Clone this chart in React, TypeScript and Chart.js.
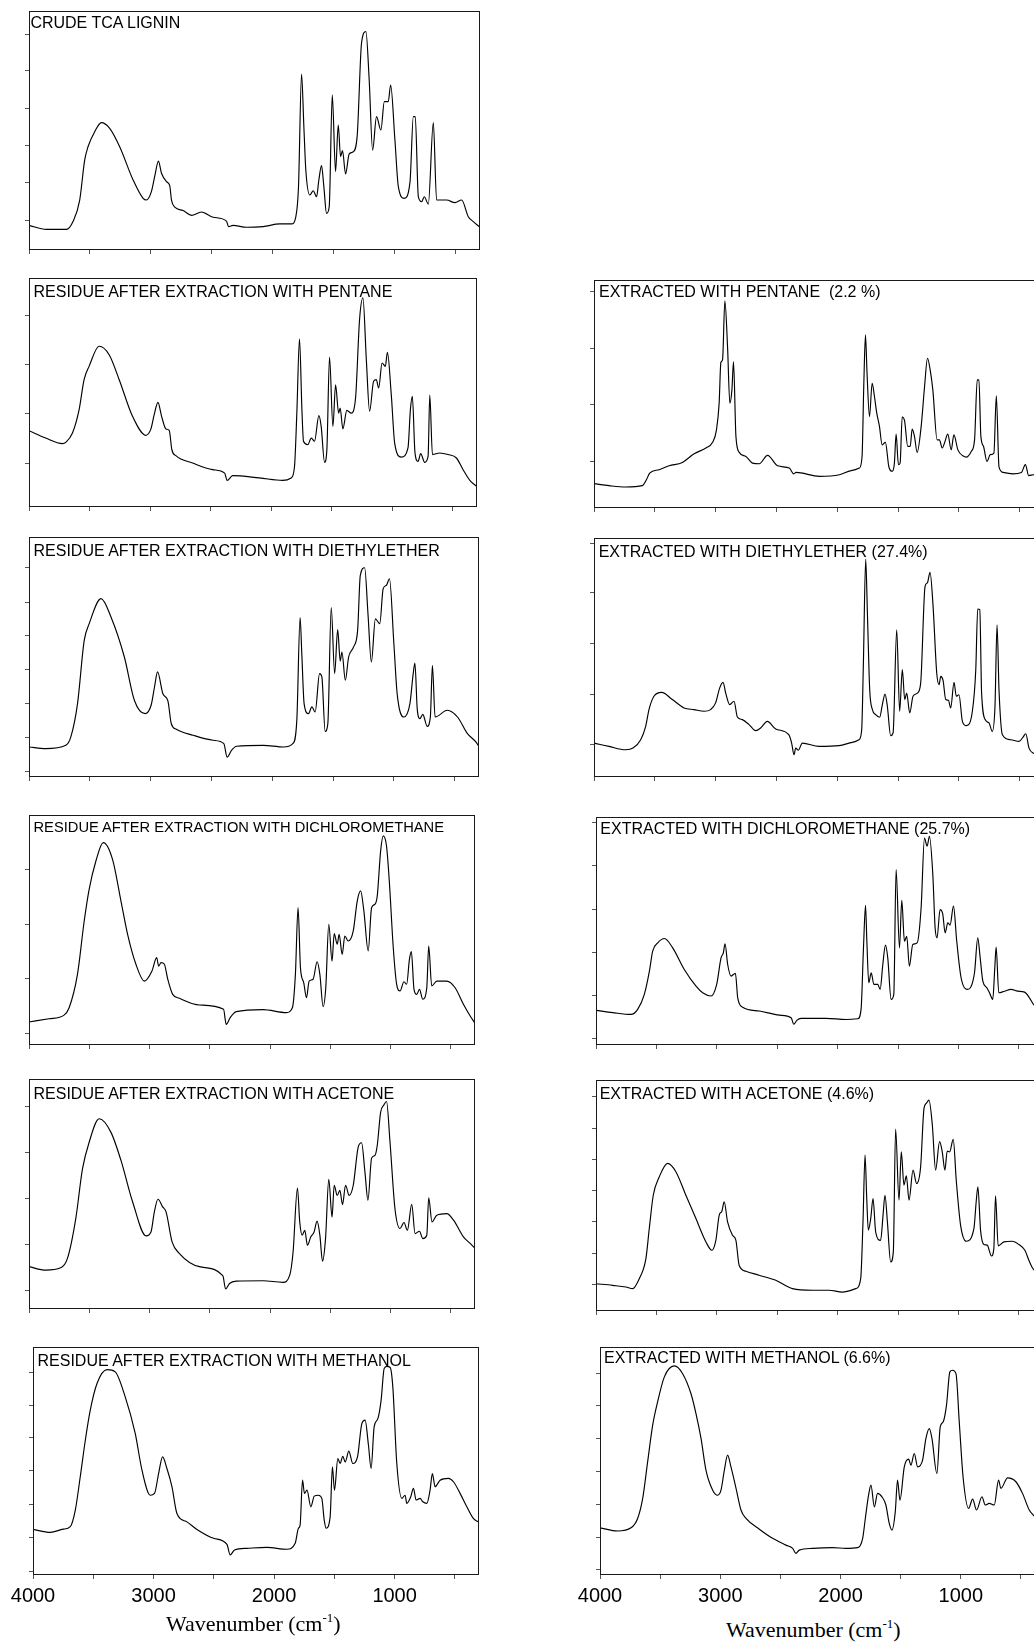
import React, { useEffect, useRef } from "react";
import { Chart, registerables } from "chart.js";

Chart.register(...registerables);

type Pt = [number, number];

// ---- tick values (wavenumber, cm^-1) ----
const X_TICKS: number[] = [4000, 3500, 3000, 2500, 2000, 1500, 1000, 500];
const X_MIN = 300;
const X_MAX = 4000;

// ---- spectra: [wavenumber, relative absorbance (% of panel height)] ----
const CRUDE_TCA: Pt[] = [[4000,10.3],[3858,8.6],[3693,8.6],[3639,11.9],[3584,20.9],[3543,37.7],[3516,43.2],[3461,49.5],[3406,53.3],[3338,50.9],[3256,43.2],[3146,29.3],[3064,21.6],[3037,20.9],[2996,24.4],[2969,30.7],[2938,37.2],[2913,32.1],[2872,28.6],[2845,26.8],[2831,20.9],[2804,17.9],[2736,16.5],[2667,14.5],[2585,15.9],[2489,13.7],[2380,12.1],[2363,9.8],[2325,10.3],[2216,9.5],[2079,9.8],[1942,10.9],[1846,10.9],[1811,13.9],[1789,26.5],[1764,73.6],[1745,51.6],[1729,33.5],[1696,23.0],[1668,24.8],[1641,22.3],[1622,29.3],[1600,35.3],[1581,26.5],[1559,15.3],[1537,18.1],[1512,64.9],[1485,32.8],[1463,52.3],[1444,39.1],[1428,41.6],[1403,31.8],[1373,40.2],[1340,41.1],[1307,48.1],[1272,86.5],[1236,91.4],[1209,71.1],[1181,41.8],[1149,55.8],[1113,50.2],[1085,62.1],[1053,62.1],[1033,69.0],[998,46.0],[970,26.5],[921,21.6],[874,28.6],[847,55.8],[831,55.8],[806,22.3],[779,20.2],[757,22.3],[724,19.2],[683,53.3],[656,20.9],[574,20.9],[505,19.8],[451,20.9],[396,13.9],[355,11.9],[306,9.8]];

const RES_PENTANE: Pt[] = [[4000,33.3],[3862,30.1],[3724,27.7],[3697,28.2],[3641,32.3],[3586,42.5],[3545,55.6],[3504,61.4],[3421,70.2],[3338,66.5],[3255,55.6],[3145,39.6],[3035,31.3],[2993,34.1],[2966,40.3],[2935,45.7],[2905,39.6],[2869,34.1],[2842,33.5],[2820,25.0],[2787,22.4],[2649,19.2],[2483,16.3],[2384,14.8],[2364,11.6],[2318,13.7],[2097,12.7],[1904,11.6],[1835,12.7],[1807,17.8],[1788,41.0],[1766,73.4],[1746,42.5],[1733,28.7],[1697,27.2],[1669,30.1],[1642,28.7],[1606,39.9],[1587,35.2],[1559,19.5],[1540,25.0],[1518,65.5],[1490,35.2],[1468,53.4],[1443,41.0],[1430,43.2],[1408,34.1],[1375,42.2],[1339,41.0],[1303,47.6],[1270,81.8],[1242,91.3],[1214,64.3],[1187,41.8],[1154,54.9],[1132,55.6],[1112,52.0],[1084,62.9],[1057,61.4],[1040,67.5],[1007,48.3],[980,27.9],[925,21.8],[870,25.8],[850,42.5],[834,48.3],[812,23.6],[787,19.9],[765,23.3],[732,19.5],[704,22.1],[690,48.9],[668,22.9],[608,23.6],[539,22.9],[470,21.4],[415,16.3],[359,11.6],[304,9.0]];

const RES_DIETHYL: Pt[] = [[4000,12.5],[3862,11.8],[3697,13.2],[3656,16.7],[3601,30.6],[3546,56.9],[3505,63.9],[3408,74.3],[3326,66.7],[3216,50.0],[3133,31.9],[3045,26.4],[2996,29.9],[2968,37.5],[2943,43.8],[2899,34.7],[2858,31.7],[2830,22.2],[2789,19.9],[2651,17.4],[2486,15.3],[2398,13.9],[2371,8.3],[2335,11.1],[2294,12.8],[2074,13.2],[1908,12.5],[1831,13.9],[1798,23.6],[1771,66.4],[1757,51.4],[1738,30.6],[1702,26.4],[1674,29.2],[1647,27.1],[1611,43.1],[1592,41.7],[1565,19.0],[1543,22.2],[1515,70.6],[1487,43.1],[1462,61.4],[1441,48.3],[1427,52.1],[1399,40.3],[1372,50.0],[1331,54.2],[1298,61.1],[1276,84.0],[1240,87.2],[1213,68.1],[1185,47.9],[1152,65.9],[1116,63.9],[1088,78.5],[1061,79.9],[1036,82.6],[1000,55.6],[973,34.7],[918,25.0],[868,30.6],[841,43.1],[827,47.5],[808,28.5],[786,24.3],[762,26.1],[726,21.1],[700,25.0],[683,46.5],[661,25.0],[560,27.8],[477,25.0],[395,18.1],[326,14.6],[298,12.5]];

const RES_DCM: Pt[] = [[4000,10.0],[3834,11.4],[3709,13.0],[3667,16.2],[3598,30.7],[3542,53.9],[3501,67.7],[3445,80.0],[3384,88.0],[3307,80.7],[3237,62.6],[3182,48.1],[3113,35.1],[3043,27.8],[2980,32.2],[2941,38.0],[2924,34.3],[2905,35.8],[2877,35.1],[2849,28.6],[2808,22.0],[2752,20.3],[2586,17.4],[2386,15.5],[2364,9.0],[2331,11.9],[2281,14.5],[2059,15.4],[1865,14.1],[1815,16.2],[1790,30.7],[1768,59.7],[1748,33.6],[1721,27.1],[1698,20.6],[1676,27.8],[1643,28.6],[1610,36.2],[1587,30.7],[1560,16.7],[1538,24.9],[1513,52.5],[1486,36.5],[1468,48.4],[1443,43.8],[1427,48.1],[1402,39.4],[1380,47.4],[1352,45.2],[1310,49.6],[1277,62.6],[1249,67.0],[1222,58.3],[1186,40.9],[1158,59.7],[1130,61.2],[1111,64.8],[1083,84.3],[1061,90.9],[1034,86.5],[1011,71.3],[978,42.3],[950,26.4],[922,23.5],[889,27.5],[867,26.4],[844,37.2],[828,40.6],[806,24.2],[783,22.0],[761,24.2],[733,19.9],[700,24.9],[684,43.0],[659,25.7],[617,27.8],[534,27.8],[465,24.9],[396,17.7],[340,12.6],[298,9.3]];

const RES_ACETONE: Pt[] = [[4000,18.4],[3861,16.9],[3737,17.9],[3681,22.0],[3612,39.3],[3556,61.0],[3501,72.5],[3418,82.7],[3321,76.9],[3237,64.6],[3140,46.5],[3029,31.8],[2988,33.5],[2960,42.2],[2930,47.7],[2891,44.4],[2863,42.2],[2813,29.2],[2752,24.1],[2586,18.4],[2392,14.5],[2369,8.7],[2336,11.1],[2281,12.1],[2059,12.3],[1893,11.6],[1837,14.7],[1809,24.9],[1773,52.6],[1754,37.9],[1734,32.1],[1712,34.2],[1690,27.7],[1662,31.4],[1635,33.5],[1610,38.2],[1587,32.1],[1565,20.8],[1540,30.6],[1513,56.4],[1486,40.0],[1468,53.8],[1443,49.4],[1421,51.6],[1399,45.4],[1374,53.8],[1344,49.4],[1310,53.8],[1269,70.4],[1241,72.3],[1213,59.5],[1188,47.3],[1158,65.6],[1130,66.8],[1111,71.1],[1083,85.5],[1056,88.7],[1034,90.2],[1005,72.5],[964,43.6],[922,35.0],[889,37.6],[861,34.2],[825,45.5],[797,32.8],[761,33.8],[733,30.6],[700,32.1],[684,48.3],[657,37.9],[617,40.8],[534,41.5],[478,38.6],[396,31.4],[340,28.5],[298,26.3]];

const RES_METHANOL: Pt[] = [[4000,20.0],[3857,18.7],[3749,20.1],[3691,21.2],[3649,28.5],[3608,43.1],[3566,59.1],[3525,72.3],[3469,84.0],[3386,90.1],[3318,89.1],[3235,78.1],[3152,62.1],[3096,46.0],[3027,35.0],[2992,35.8],[2958,44.5],[2925,51.8],[2889,46.7],[2847,38.7],[2806,27.0],[2723,23.3],[2640,20.0],[2502,16.1],[2391,13.4],[2364,8.8],[2328,11.0],[2226,11.7],[2060,12.1],[1894,11.3],[1825,13.9],[1798,20.5],[1784,21.9],[1764,41.6],[1748,35.8],[1727,37.2],[1695,29.9],[1667,34.6],[1632,35.0],[1604,33.6],[1584,24.1],[1568,20.5],[1535,25.5],[1516,47.4],[1499,37.2],[1471,51.1],[1452,48.9],[1430,52.1],[1410,49.6],[1380,54.3],[1347,48.9],[1308,51.8],[1272,66.4],[1245,67.9],[1217,56.9],[1195,46.7],[1170,65.0],[1139,68.6],[1112,76.7],[1087,90.5],[1065,91.5],[1037,91.0],[1015,82.5],[982,48.9],[940,33.6],[913,35.0],[899,31.4],[866,34.3],[844,38.0],[822,32.9],[789,33.6],[766,32.1],[733,31.4],[706,37.2],[687,44.5],[664,38.7],[623,41.6],[554,42.4],[512,40.9],[457,35.8],[401,29.9],[347,24.8],[305,23.3]];

const EXT_PENTANE: Pt[] = [[4000,10.7],[3876,9.8],[3739,9.2],[3602,9.8],[3569,12.4],[3542,15.3],[3465,16.8],[3382,18.5],[3273,20.0],[3177,23.8],[3080,26.3],[3025,28.8],[2993,34.3],[2971,46.0],[2957,63.8],[2943,65.0],[2924,90.9],[2902,70.8],[2883,46.0],[2866,51.8],[2853,64.2],[2833,31.4],[2806,24.4],[2751,22.6],[2696,19.7],[2641,19.4],[2573,23.1],[2490,18.5],[2394,17.5],[2358,15.0],[2339,15.6],[2147,13.9],[1982,14.6],[1886,16.4],[1818,17.5],[1796,22.6],[1782,53.3],[1768,75.9],[1755,59.1],[1735,40.1],[1713,54.7],[1694,48.9],[1675,41.6],[1653,35.8],[1631,27.7],[1604,28.8],[1576,18.2],[1549,16.1],[1530,19.7],[1516,32.4],[1497,19.0],[1483,19.7],[1466,39.9],[1447,38.4],[1420,27.0],[1400,27.0],[1384,34.6],[1365,31.4],[1343,24.4],[1310,35.8],[1282,53.3],[1258,65.7],[1236,60.6],[1214,51.8],[1179,29.9],[1160,29.9],[1137,26.3],[1118,28.5],[1091,32.4],[1063,25.5],[1041,32.1],[1008,25.5],[967,22.9],[939,22.3],[898,24.8],[871,29.9],[849,56.2],[835,56.2],[819,31.4],[797,27.0],[769,20.4],[742,23.4],[712,24.1],[692,49.2],[670,18.0],[637,15.6],[555,15.0],[486,15.6],[453,19.0],[426,14.2],[385,14.6],[300,14.0]];

const EXT_DIETHYL: Pt[] = [[4000,14.2],[3877,12.8],[3740,11.4],[3679,12.1],[3616,15.6],[3575,21.2],[3548,28.2],[3507,33.8],[3444,35.4],[3356,32.4],[3260,28.9],[3178,28.2],[3095,27.5],[3041,28.2],[3000,31.0],[2967,37.2],[2939,39.6],[2917,35.1],[2884,30.3],[2849,31.7],[2821,25.1],[2780,24.0],[2725,21.9],[2671,19.4],[2630,20.5],[2575,23.3],[2506,20.1],[2397,17.6],[2375,14.2],[2355,9.3],[2342,12.1],[2320,11.2],[2287,14.2],[2150,12.8],[1985,13.1],[1876,14.5],[1821,15.6],[1799,19.8],[1785,47.7],[1766,91.2],[1752,68.6],[1733,36.5],[1711,28.2],[1684,26.1],[1651,25.0],[1629,30.3],[1607,34.7],[1588,29.6],[1561,17.3],[1541,18.4],[1511,61.6],[1487,27.5],[1465,44.9],[1445,32.4],[1429,35.1],[1404,26.8],[1377,33.8],[1341,35.1],[1314,39.3],[1278,79.8],[1259,81.2],[1237,85.6],[1212,71.4],[1182,43.5],[1163,38.6],[1149,42.1],[1130,40.4],[1108,32.4],[1086,32.1],[1067,28.9],[1040,39.6],[1021,33.8],[999,34.4],[971,23.3],[938,21.5],[889,27.5],[861,44.9],[845,70.3],[828,70.0],[813,35.1],[780,23.7],[752,22.6],[725,19.1],[703,29.6],[686,63.7],[670,36.5],[642,17.7],[574,15.6],[505,14.9],[472,16.7],[450,18.1],[423,12.1],[390,10.0],[300,9.0]];

const EXT_DCM: Pt[] = [[4000,15.2],[3862,14.2],[3710,13.4],[3655,15.6],[3600,22.2],[3558,32.4],[3531,41.2],[3489,44.8],[3434,46.7],[3365,42.6],[3269,33.1],[3172,25.8],[3117,22.9],[3048,21.5],[3001,26.6],[2965,38.2],[2946,40.4],[2932,44.4],[2910,35.3],[2882,30.2],[2863,30.9],[2846,31.4],[2827,20.7],[2786,16.6],[2648,14.9],[2482,13.1],[2385,12.0],[2363,9.1],[2338,10.8],[2303,11.7],[2096,11.7],[1930,11.2],[1833,11.5],[1806,15.6],[1786,42.6],[1769,61.3],[1758,45.5],[1742,27.3],[1722,31.7],[1700,26.6],[1668,26.6],[1648,24.4],[1626,35.3],[1604,43.8],[1585,38.2],[1557,20.0],[1535,22.2],[1516,76.9],[1488,42.6],[1469,63.4],[1447,45.5],[1428,47.7],[1406,34.6],[1378,44.1],[1342,44.8],[1309,60.1],[1281,90.8],[1259,87.2],[1240,91.5],[1212,74.7],[1193,51.4],[1177,47.0],[1152,59.4],[1130,57.5],[1110,49.2],[1088,53.6],[1069,52.6],[1041,60.9],[1014,45.5],[978,29.5],[923,24.4],[867,31.7],[840,47.0],[820,38.2],[798,28.0],[765,25.1],[743,22.9],[716,20.0],[699,33.9],[688,42.9],[666,22.9],[619,23.6],[564,24.4],[509,23.6],[453,23.2],[412,20.7],[379,17.8],[300,15.0]];

const EXT_ACETONE: Pt[] = [[4000,11.8],[3862,11.1],[3752,10.4],[3697,9.7],[3642,14.0],[3587,22.7],[3559,35.7],[3526,50.1],[3476,58.1],[3407,63.9],[3339,60.3],[3256,50.1],[3173,40.0],[3090,29.9],[3041,26.3],[3008,30.6],[2980,41.5],[2958,43.2],[2939,47.3],[2911,38.6],[2870,32.8],[2842,30.6],[2815,19.8],[2760,17.2],[2650,15.5],[2512,13.3],[2374,9.7],[2209,9.0],[2071,9.0],[1961,8.2],[1850,9.7],[1809,14.0],[1790,38.6],[1773,67.5],[1759,48.7],[1746,35.0],[1726,40.0],[1707,48.7],[1685,34.2],[1644,30.6],[1624,41.5],[1608,50.1],[1588,38.6],[1561,21.2],[1539,25.6],[1520,78.8],[1492,48.0],[1473,68.9],[1451,54.5],[1431,58.5],[1409,48.0],[1376,61.0],[1346,55.2],[1313,62.4],[1285,87.7],[1266,89.9],[1244,91.3],[1216,80.5],[1189,61.0],[1156,73.3],[1134,68.9],[1112,61.0],[1093,69.2],[1073,68.9],[1043,74.3],[1018,56.6],[982,37.1],[935,30.2],[872,35.7],[853,47.3],[839,53.8],[817,35.0],[789,28.8],[762,28.5],[726,23.8],[707,27.0],[693,49.9],[671,28.2],[624,29.9],[555,30.2],[500,28.8],[450,26.3],[417,22.0],[384,18.4],[300,14.0]];

const EXT_METHANOL: Pt[] = [[4000,20.7],[3853,19.3],[3742,20.7],[3687,24.8],[3645,33.6],[3604,49.6],[3562,65.7],[3521,75.9],[3465,86.9],[3382,91.7],[3313,88.3],[3244,79.6],[3202,70.8],[3160,59.9],[3119,46.0],[3063,37.2],[3022,35.0],[2994,37.2],[2966,46.0],[2939,52.6],[2911,47.4],[2869,38.0],[2828,28.5],[2786,24.8],[2675,20.1],[2565,16.1],[2454,13.1],[2398,11.7],[2371,9.5],[2343,10.9],[2232,11.7],[2066,12.0],[1955,11.7],[1858,12.0],[1816,16.1],[1794,24.8],[1767,35.0],[1747,39.4],[1719,29.9],[1692,35.8],[1656,34.3],[1623,30.7],[1595,22.6],[1573,19.7],[1545,27.7],[1526,41.6],[1506,32.8],[1470,47.4],[1434,50.8],[1415,48.2],[1387,53.3],[1359,47.4],[1318,50.4],[1290,59.9],[1262,64.2],[1240,59.9],[1199,44.5],[1171,65.0],[1146,67.2],[1119,74.5],[1091,89.1],[1068,89.8],[1040,88.3],[1013,67.2],[980,42.3],[935,29.2],[902,33.3],[869,28.5],[824,34.3],[797,30.7],[763,31.4],[722,30.7],[686,41.6],[667,38.0],[611,42.6],[542,40.9],[487,35.8],[431,28.5],[398,26.3],[300,22.0]];

// ---- y-axis tick values (unlabelled), per panel ----
const YT_CRUDE = [89.96, 74.9, 59.3, 43.7, 28.2, 12.55];
const YT_RES_PENTANE = [83.6, 62.2, 40.8, 19.2];
const YT_RES_DIETHYL = [87.2, 72.9, 58.8, 44.7, 30.6, 16.4, 2.4];
const YT_RES_DCM = [76.1, 52.5, 28.7, 5.1];
const YT_RES_ACETONE = [88.2, 68.2, 48.0, 28.0, 7.9];
const YT_RES_METHANOL = [89.0, 74.5, 60.1, 45.7, 31.1, 16.5, 1.75];
const YT_EXT_PENTANE = [94.9, 70.1, 45.3, 20.4];
const YT_EXT_DIETHYL = [97.9, 77.0, 55.8, 34.7, 13.5];
const YT_EXT_DCM = [97.4, 78.7, 59.4, 40.4, 21.5, 2.9];
const YT_EXT_ACETONE = [92.8, 79.0, 65.6, 52.0, 38.6, 24.9, 11.6];
const YT_EXT_METHANOL = [88.3, 74.5, 59.9, 45.6, 30.9, 16.4, 2.2];

const AXIS_TITLE = "Wavenumber (cm";

const SANS = '"Liberation Sans", Arial, Helvetica, sans-serif';
const SERIF = '"Liberation Serif", "Times New Roman", serif';

interface Panel {
  title: string;
  data: Pt[];
  yTicks: number[];
  box: [number, number, number, number]; // left, top, width, height
  tdx: number;
  tdy: number;
  tsize: number;
  bottom: boolean;
}

const PANELS: Panel[] = [
  { title: "CRUDE TCA LIGNIN", data: CRUDE_TCA, yTicks: YT_CRUDE, box: [29, 11, 451, 239], tdx: 1.4, tdy: 5.7, tsize: 16, bottom: false },
  { title: "RESIDUE AFTER EXTRACTION WITH PENTANE", data: RES_PENTANE, yTicks: YT_RES_PENTANE, box: [29, 278, 448, 229], tdx: 4.5, tdy: 7.7, tsize: 16, bottom: false },
  { title: "RESIDUE AFTER EXTRACTION WITH DIETHYLETHER", data: RES_DIETHYL, yTicks: YT_RES_DIETHYL, box: [29, 537, 450, 240], tdx: 4.5, tdy: 8, tsize: 16, bottom: false },
  { title: "RESIDUE AFTER EXTRACTION WITH DICHLOROMETHANE", data: RES_DCM, yTicks: YT_RES_DCM, box: [29, 815, 446, 230], tdx: 4.5, tdy: 6.7, tsize: 14.7, bottom: false },
  { title: "RESIDUE AFTER EXTRACTION WITH ACETONE", data: RES_ACETONE, yTicks: YT_RES_ACETONE, box: [29, 1079, 446, 230], tdx: 4.5, tdy: 8.7, tsize: 16, bottom: false },
  { title: "RESIDUE AFTER EXTRACTION WITH METHANOL", data: RES_METHANOL, yTicks: YT_RES_METHANOL, box: [33, 1347, 446, 228], tdx: 4.5, tdy: 8, tsize: 16, bottom: true },
  { title: "EXTRACTED WITH PENTANE  (2.2 %)", data: EXT_PENTANE, yTicks: YT_EXT_PENTANE, box: [594, 280, 450, 228], tdx: 5, tdy: 6, tsize: 16, bottom: false },
  { title: "EXTRACTED WITH DIETHYLETHER (27.4%)", data: EXT_DIETHYL, yTicks: YT_EXT_DIETHYL, box: [594, 538, 450, 239], tdx: 4.7, tdy: 8, tsize: 16, bottom: false },
  { title: "EXTRACTED WITH DICHLOROMETHANE (25.7%)", data: EXT_DCM, yTicks: YT_EXT_DCM, box: [596, 817, 447, 228], tdx: 4.3, tdy: 6, tsize: 16, bottom: false },
  { title: "EXTRACTED WITH ACETONE (4.6%)", data: EXT_ACETONE, yTicks: YT_EXT_ACETONE, box: [596, 1080, 447, 231], tdx: 3.7, tdy: 8, tsize: 16, bottom: false },
  { title: "EXTRACTED WITH METHANOL (6.6%)", data: EXT_METHANOL, yTicks: YT_EXT_METHANOL, box: [600, 1347, 445, 228], tdx: 4, tdy: 5, tsize: 16, bottom: true },
];

const PAD_L = 30;
const PAD_T = 4;
const PAD_R = 6;

const boxPlugin = {
  id: "boxBorder",
  afterDraw(chart: any) {
    const { ctx, chartArea } = chart;
    const l = Math.round(chartArea.left) + 0.5;
    const t = Math.round(chartArea.top) + 0.5;
    const r = Math.round(chartArea.right) - 0.5;
    const b = Math.round(chartArea.bottom) - 0.5;
    ctx.save();
    ctx.strokeStyle = "#1a1a1a";
    ctx.lineWidth = 1;
    ctx.strokeRect(l, t, r - l, b - t);
    ctx.restore();
  },
};

function Spectrum({ p }: { p: Panel }) {
  const ref = useRef<HTMLCanvasElement>(null);
  const [bl, bt, bw, bh] = p.box;
  const padB = p.bottom ? 40 : 12;
  const w = bw + PAD_L + PAD_R;
  const h = bh + PAD_T + padB;

  useEffect(() => {
    if (!ref.current) return;
    const chart = new Chart(ref.current, {
      type: "line",
      data: {
        datasets: [
          {
            data: p.data.map(([x, y]) => ({ x, y })),
            borderColor: "#000",
            borderWidth: 1.15,
            pointRadius: 0,
            cubicInterpolationMode: "monotone",
            fill: false,
          },
        ],
      },
      options: {
        responsive: false,
        animation: false,
        devicePixelRatio: 1,
        events: [],
        layout: { padding: { top: PAD_T, right: PAD_R, left: 0, bottom: 0 } },
        plugins: { legend: { display: false }, tooltip: { enabled: false }, title: { display: false } },
        scales: {
          x: {
            type: "linear",
            reverse: true,
            min: X_MIN,
            max: X_MAX,
            afterBuildTicks: (s: any) => {
              s.ticks = X_TICKS.map((v) => ({ value: v }));
            },
            afterFit: (s: any) => {
              s.height = padB;
            },
            ticks: {
              display: p.bottom,
              autoSkip: false,
              maxRotation: 0,
              padding: 5,
              color: "#000",
              font: { family: SANS, size: 20 },
              callback: (v: any) => (Number(v) % 1000 === 0 ? String(v) : ""),
            },
            grid: { display: true, drawOnChartArea: false, drawTicks: true, tickLength: 4, color: "#555", lineWidth: 1 },
            border: { display: false },
          },
          y: {
            type: "linear",
            min: 0,
            max: 100,
            afterBuildTicks: (s: any) => {
              s.ticks = p.yTicks.map((v) => ({ value: v }));
            },
            afterFit: (s: any) => {
              s.width = PAD_L;
            },
            ticks: { display: false },
            grid: { display: true, drawOnChartArea: false, drawTicks: true, tickLength: 4, color: "#555", lineWidth: 1 },
            border: { display: false },
          },
        },
      },
      plugins: [boxPlugin],
    } as any);
    return () => chart.destroy();
  }, []);

  return (
    <canvas
      ref={ref}
      width={w}
      height={h}
      style={{ position: "absolute", left: bl - PAD_L, top: bt - PAD_T, width: w, height: h }}
    />
  );
}

function Title({ p }: { p: Panel }) {
  const [bl, bt] = p.box;
  const capOff = 0.1305 * p.tsize;
  return (
    <div
      style={{
        position: "absolute",
        left: bl + p.tdx,
        top: bt + p.tdy - capOff,
        fontFamily: SANS,
        fontSize: p.tsize,
        lineHeight: `${p.tsize}px`,
        color: "#000",
        whiteSpace: "pre",
      }}
    >
      {p.title}
    </div>
  );
}

function AxisTitle({ left, top }: { left: number; top: number }) {
  return (
    <div
      style={{
        position: "absolute",
        left,
        top,
        fontFamily: SERIF,
        fontSize: 22,
        lineHeight: "22px",
        color: "#000",
        whiteSpace: "pre",
      }}
    >
      {AXIS_TITLE}
      <span style={{ fontSize: 13, position: "relative", top: -9 }}>-1</span>)
    </div>
  );
}

export default function App() {
  return (
    <div
      style={{
        position: "absolute",
        left: 0,
        top: 0,
        width: 1034,
        height: 1644,
        overflow: "hidden",
        background: "#fff",
      }}
    >
      {PANELS.map((p, i) => (
        <Spectrum key={"c" + i} p={p} />
      ))}
      {PANELS.map((p, i) => (
        <Title key={"t" + i} p={p} />
      ))}
      <AxisTitle left={166} top={1613} />
      <AxisTitle left={726} top={1619} />
    </div>
  );
}
